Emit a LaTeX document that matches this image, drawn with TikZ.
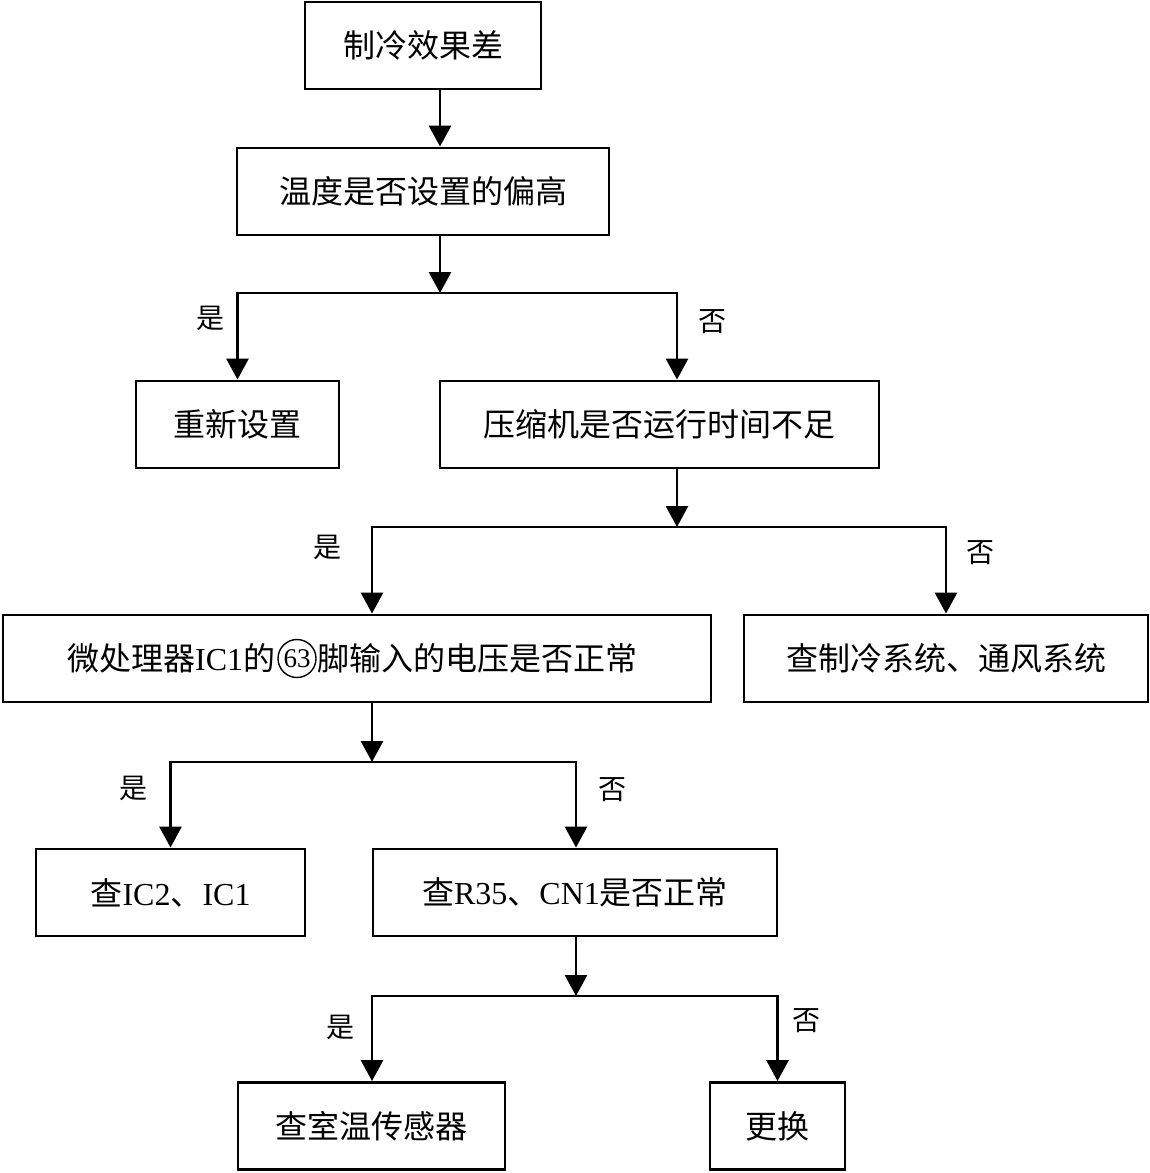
\documentclass[tikz,border=0pt]{standalone}
\usepackage{fontspec}
\setmainfont{Liberation Serif}
\newfontfamily\cjk{Noto Sans CJK SC}
\usetikzlibrary{arrows.meta}
\begin{document}
\begin{tikzpicture}[x=1pt,y=-1pt,line join=miter,
  box/.style={draw, line width=2.9pt, minimum height=87pt, inner sep=0pt, font=\fontsize{32}{38}\selectfont},
  txt/.style={inner sep=0pt, font=\fontsize{32}{38}\selectfont},
  arr/.style={line width=2.9pt, -{Triangle[length=21pt,width=22pt]}},
  lab/.style={font=\cjk\fontsize{28}{32}\selectfont, inner sep=0pt}]
\useasboundingbox (0,0) rectangle (1150,1173);
\node[box, minimum width=236pt] (b1) at (423,45.5) {\cjk 制冷效果差};
\node[box, minimum width=372pt] (b2) at (423,191.5) {\cjk 温度是否设置的偏高};
\node[box, minimum width=203pt] (b3) at (237.5,424.5) {\cjk 重新设置};
\node[box, minimum width=439pt] (b4) at (659.5,424.5) {\cjk 压缩机是否运行时间不足};
\node[box, minimum width=708pt] (b5) at (357,658.5) {};
\node[draw, circle, line width=1.4pt, inner sep=0pt, minimum size=38pt, font=\fontsize{27}{29}\selectfont] (c63) at (297,658.5) {63};
\node[txt, anchor=east] (t5a) at ([xshift=-2pt]c63.west) {{\cjk 微处理器}IC1{\cjk 的}};
\node[txt, anchor=west] (t5b) at ([xshift=1pt]c63.east) {\cjk 脚输入的电压是否正常};
\node[box, minimum width=404pt] (b6) at (946,658.5) {\cjk 查制冷系统、通风系统};
\node[box, minimum width=269pt] (b7) at (170.5,892.5) {{\cjk 查}IC2{\cjk 、}IC1};
\node[box, minimum width=404pt] (b8) at (575,892.5) {{\cjk 查}R35{\cjk 、}CN1{\cjk 是否正常}};
\node[box, minimum width=267pt] (b9) at (371.5,1126) {\cjk 查室温传感器};
\node[box, minimum width=135pt] (b10) at (777.5,1126) {\cjk 更换};
\coordinate (j1) at (440,293);
\coordinate (j2) at (677,527);
\coordinate (j3) at (372,762);
\coordinate (j4) at (576,996);
\draw[arr] (b1.south -| j1) -- (b2.north -| j1);
\draw[arr] (b2.south -| j1) -- (j1);
\draw[arr] (j1) -| (b3.north);
\draw[arr] (j1) -| (j2 |- b4.north);
\draw[arr] (b4.south -| j2) -- (j2);
\draw[arr] (j2) -| (j3 |- b5.north);
\draw[arr] (j2) -| (b6.north);
\draw[arr] (b5.south -| j3) -- (j3);
\draw[arr] (j3) -| (b7.north);
\draw[arr] (j3) -| (j4 |- b8.north);
\draw[arr] (b8.south -| j4) -- (j4);
\draw[arr] (j4) -| (j3 |- b9.north);
\draw[arr] (j4) -| (b10.north);
\node[lab] (l1) at (210,318) {是};
\node[lab] (l2) at (712,322) {否};
\node[lab] (l3) at (327,547) {是};
\node[lab] (l4) at (980,553) {否};
\node[lab] (l5) at (133,788) {是};
\node[lab] (l6) at (612,790) {否};
\node[lab] (l7) at (340,1027) {是};
\node[lab] (l8) at (806,1021) {否};
\end{tikzpicture}
\end{document}
